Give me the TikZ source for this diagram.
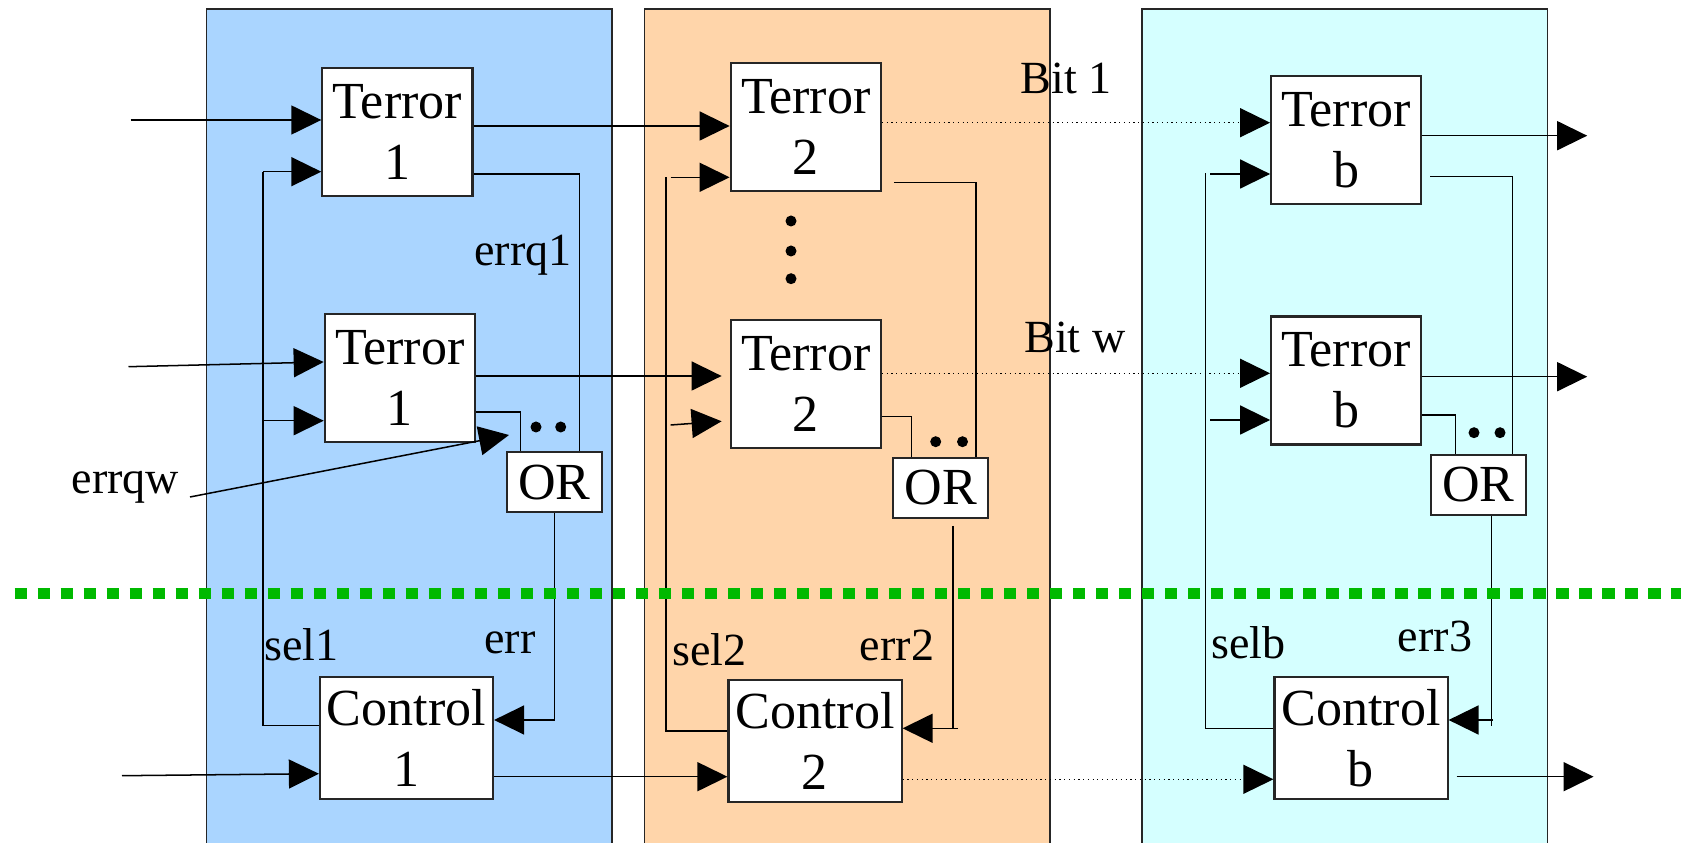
\documentclass[tikz,border=0pt]{standalone}
\usepackage{fontspec}
\setmainfont{Liberation Serif}
\usetikzlibrary{arrows.meta}
\definecolor{pblue}{RGB}{170,213,255}
\definecolor{porange}{RGB}{255,213,170}
\definecolor{pcyan}{RGB}{213,255,255}
\definecolor{dgreen}{RGB}{0,185,0}
\begin{document}
\begin{tikzpicture}[x=0.01cm,y=-0.01cm,
 line width=0.43pt,
 box/.style={draw=black!85, line width=0.6pt, fill=white, inner sep=0pt, align=center, font=\fontsize{14.8}{17.3}\selectfont},
 tbox/.style={box, minimum width=1.5cm, minimum height=1.28cm},
 orbox/.style={box, minimum width=0.95cm, minimum height=0.6cm},
 cbox/.style={box, minimum width=1.73cm, minimum height=1.22cm},
 lbl/.style={inner sep=0pt, font=\fontsize{13.1}{15.5}\selectfont},
 arr/.style={-{Triangle[length=0.3cm,width=0.29cm]}},
 dotl/.style={densely dotted, line width=0.35pt},
 panel/.style={draw=black!85, line width=0.45pt},
 bdot/.style={circle, fill=black, inner sep=0pt, minimum size=0.11cm},
]
\useasboundingbox (0,0) rectangle (1681,843);
\clip (0,0) rectangle (1681,843);

% panels
\draw[panel, fill=pblue] (206.4,9) rectangle (612,880);
\draw[panel, fill=porange] (644.3,9) rectangle (1049.7,880);
\draw[panel, fill=pcyan] (1142,9) rectangle (1547.6,880);

% boxes
\node[tbox] (t11) at (397.4,132.2) {Terror\\1};
\node[tbox] (t1w) at (399.8,378) {Terror\\1};
\node[tbox] (t21) at (805.7,126.7) {Terror\\2};
\node[tbox] (t2w) at (805.7,383.9) {Terror\\2};
\node[tbox] (tb1) at (1346.2,140.4) {Terror\\b};
\node[tbox] (tbw) at (1346.2,380.5) {Terror\\b};
\node[orbox] (or1) at (554.5,482.2) {OR};
\node[orbox] (or2) at (940.7,487.8) {OR};
\node[orbox] (orb) at (1478.5,485) {OR};
\node[cbox] (c1) at (406.5,737.8) {Control\\1};
\node[cbox] (c2) at (815,740.8) {Control\\2};
\node[cbox] (cb) at (1361,737.8) {Control\\b};

% ---------- blue column ----------
\coordinate (in11) at (130.5,120);
\draw[arr] (in11) -- (t11.west |- in11);
\coordinate (s1t) at (263,171.7);
\coordinate (s1m) at (263,420.7);
\coordinate (s1b) at (263,725.7);
\draw (c1.west |- s1b) -- (s1b) -- (s1t);
\draw[arr] (s1t) -- (t11.west |- s1t);
\draw[arr] (s1m) -- (t1w.west |- s1m);
\draw[arr] (t11.east |- 0,126) -- (t21.west |- 0,126);
\draw (t11.east |- 0,174) -- (579.7,174) -- (or1.north -| 579.7,0);
\node[lbl] (lq1) at (523,255) {errq1};
\coordinate (in1w) at (128.5,366.7);
\draw[arr] (in1w) -- (t1w.west |- 0,362);
\draw[arr, shorten >=0.08cm] (t1w.east |- 0,376) -- (t2w.west |- 0,376);
\draw (t1w.east |- 0,412) -- (520.4,412) -- (or1.north -| 520.4,0);
\node[bdot] (d1a) at (536,427) {};
\node[bdot] (d1b) at (560.7,427) {};
\node[lbl] (lqw) at (125.5,487) {errqw};
\coordinate (qwa) at (190,497);
\coordinate (qwb) at (509,435);
\draw[arr] (qwa) -- (qwb);
\draw[arr] (or1.south) |- (c1.east |- 0,720);
\node[lbl] (lerr1) at (510,643) {err};
\node[lbl] (lsel1) at (301.5,645) {sel1};
\coordinate (inc1) at (122,775.7);
\draw[arr] (inc1) -- (c1.west |- 0,773.7);
\draw[arr] (c1.east |- 0,776.7) -- (c2.west |- 0,776.7);

% ---------- orange column ----------
\coordinate (s2t) at (665.8,176.7);
\coordinate (s2b) at (665.8,731);
\draw (c2.west |- s2b) -- (s2b) -- (s2t);
\coordinate (s2a) at (670.7,177.3);
\coordinate (s2c) at (670.7,425);
\draw[arr] (s2a) -- (t21.west |- s2a);
\draw[arr, shorten >=0.08cm] (s2c) -- (t2w.west |- 0,420.7);
\draw[dotl, arr] (t21.east |- 0,122.7) -- (tb1.west |- 0,122.7);
\draw[shorten <=0.12cm] (t21.east |- 0,182.3) -- (976,182.3) -- (or2.north -| 976,0);
\node[bdot] (v1) at (791,221) {};
\node[bdot] (v2) at (791,251) {};
\node[bdot] (v3) at (791,278.7) {};
\node[lbl] (lb1) at (1066,78) {Bit 1};
\node[lbl] (lbw) at (1075,337.5) {Bit w};
\draw[dotl, arr] (t2w.east |- 0,373.3) -- (tbw.west |- 0,373.3);
\draw (t2w.east |- 0,416.7) -- (911.5,416.7) -- (or2.north -| 911.5,0);
\node[bdot] (d2a) at (935.7,441.7) {};
\node[bdot] (d2b) at (962.5,441.7) {};
\draw[shorten <=0.07cm] (or2.south -| 953.2,0) -- (953.2,728.3);
\coordinate (e2) at (958,728.3);
\draw[arr] (e2) -- (c2.east |- e2);
\node[lbl] (lerr2) at (897,645) {err2};
\node[lbl] (lsel2) at (709.5,650) {sel2};
\draw[dotl, arr] (c2.east |- 0,779.3) -- (cb.west |- 0,779.3);

% ---------- cyan column ----------
\coordinate (sbt) at (1205.6,173.3);
\coordinate (sbb) at (1205.6,728.3);
\draw (cb.west |- sbb) -- (sbb) -- (sbt);
\coordinate (sba) at (1210.4,174);
\coordinate (sbc) at (1210.4,420);
\draw[arr] (sba) -- (tb1.west |- sba);
\draw[arr] (sbc) -- (tbw.west |- sbc);
\coordinate (ob1) at (1587.2,135.7);
\draw[arr] (tb1.east |- ob1) -- (ob1);
\draw[shorten <=0.08cm] (tb1.east |- 0,176.7) -- (1512.4,176.7) -- (orb.north -| 1512.4,0);
\coordinate (obw) at (1587.2,376.7);
\draw[arr] (tbw.east |- obw) -- (obw);
\draw (tbw.east |- 0,415) -- (1455.7,415) -- (orb.north -| 1455.7,0);
\node[bdot] (dba) at (1474,432.7) {};
\node[bdot] (dbb) at (1500,432.7) {};
\draw (orb.south -| 1491.6,0) -- (1491.6,726);
\coordinate (eb) at (1493,720);
\draw[arr] (eb) -- (cb.east |- eb);
\node[lbl] (lerr3) at (1435,636) {err3};
\node[lbl] (lselb) at (1248.5,643) {selb};
\coordinate (ocb) at (1593.6,776.7);
\draw[arr, shorten <=0.08cm] (cb.east |- ocb) -- (ocb);

% green separator
\draw[dgreen, line width=0.113cm, dash pattern=on 0.123cm off 0.107cm] (14.5,593.5) -- (1700,593.5);
\end{tikzpicture}
\end{document}
